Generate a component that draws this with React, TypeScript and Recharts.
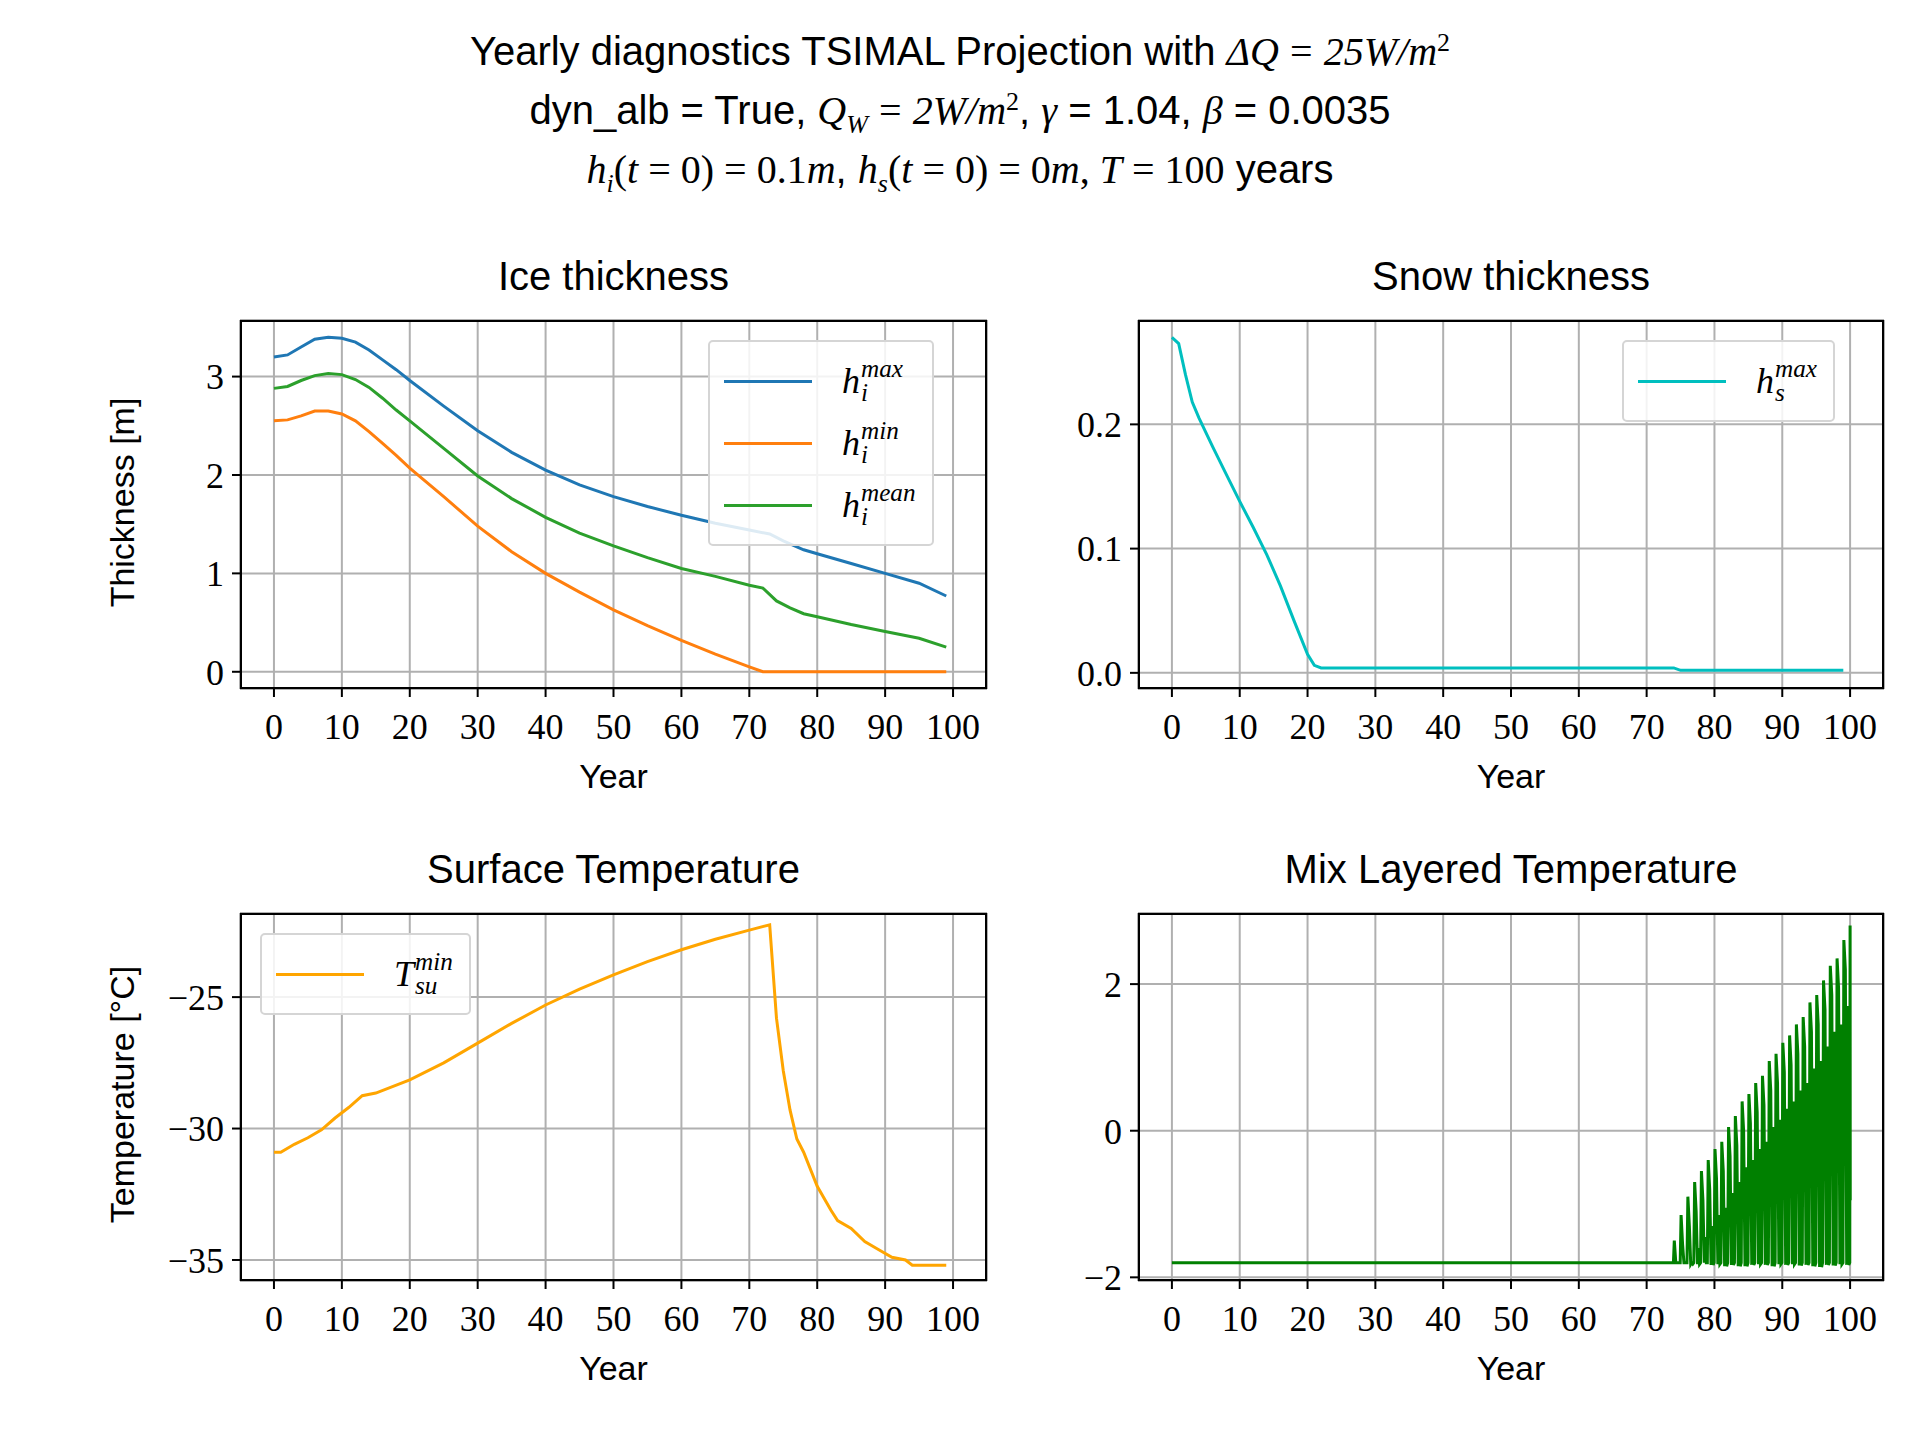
import React from "react";
import { LineChart, Line, XAxis, YAxis, CartesianGrid } from "recharts";

const yearTicks = [0, 10, 20, 30, 40, 50, 60, 70, 80, 90, 100];

const hMaxYears = [0, 2, 4, 6, 8, 10, 12, 14, 16, 18, 20, 25, 30, 35, 40, 45, 50, 55, 60, 65, 70, 73, 75, 78, 80, 85, 90, 95, 99];
const hMaxVals = [3.2, 3.22, 3.3, 3.38, 3.4, 3.39, 3.35, 3.27, 3.17, 3.07, 2.96, 2.7, 2.45, 2.23, 2.05, 1.9, 1.78, 1.68, 1.59, 1.51, 1.44, 1.4, 1.33, 1.24, 1.2, 1.1, 1.0, 0.9, 0.77];
const hMinYears = [0, 2, 4, 6, 8, 10, 12, 14, 16, 18, 20, 25, 30, 35, 40, 45, 50, 55, 60, 65, 70, 72, 99];
const hMinVals = [2.55, 2.56, 2.6, 2.65, 2.65, 2.62, 2.55, 2.44, 2.32, 2.2, 2.07, 1.78, 1.48, 1.22, 1.0, 0.81, 0.63, 0.47, 0.32, 0.18, 0.05, 0.0, 0.0];
const hMeanYears = [0, 2, 4, 6, 8, 10, 12, 14, 16, 18, 20, 25, 30, 35, 40, 45, 50, 55, 60, 65, 70, 72, 74, 76, 78, 80, 85, 90, 95, 99];
const hMeanVals = [2.88, 2.9, 2.96, 3.01, 3.03, 3.02, 2.97, 2.89, 2.78, 2.66, 2.55, 2.27, 1.99, 1.76, 1.57, 1.41, 1.28, 1.16, 1.05, 0.97, 0.88, 0.85, 0.72, 0.65, 0.59, 0.56, 0.48, 0.41, 0.34, 0.25];

const snowYears = [0, 1, 2, 3, 4, 6, 8, 10, 12, 14, 16, 18, 20, 21, 22, 74, 75, 99];
const snowVals = [0.27, 0.265, 0.24, 0.218, 0.205, 0.182, 0.16, 0.138, 0.117, 0.095, 0.07, 0.042, 0.015, 0.006, 0.004, 0.004, 0.002, 0.002];

const tsuYears = [0, 1, 3, 5, 7, 9, 11, 13, 15, 20, 25, 30, 35, 40, 45, 50, 55, 60, 65, 70, 73, 74, 75, 76, 77, 78, 80, 82, 83, 85, 87, 89, 91, 93, 94, 99];
const tsuVals = [-30.9, -30.9, -30.6, -30.35, -30.05, -29.6, -29.2, -28.75, -28.65, -28.15, -27.5, -26.75, -26.0, -25.3, -24.7, -24.15, -23.65, -23.2, -22.8, -22.45, -22.25, -25.8, -27.8, -29.3, -30.4, -30.9, -32.2, -33.1, -33.5, -33.8, -34.3, -34.6, -34.9, -35.0, -35.2, -35.2];

// mixed layer: flat until year 74, then one summer peak per year
const mixBase = -1.8;
const mixPeakYears = [74, 75, 76, 77, 78, 79, 80, 81, 82, 83, 84, 85, 86, 87, 88, 89, 90, 91, 92, 93, 94, 95, 96, 97, 98, 99];
const mixPeakVals = [-1.5, -1.15, -0.9, -0.7, -0.55, -0.4, -0.25, -0.15, 0.05, 0.2, 0.4, 0.5, 0.65, 0.75, 0.95, 1.05, 1.2, 1.3, 1.45, 1.55, 1.75, 1.85, 2.05, 2.25, 2.35, 2.6];
const mixTroughVals = [-1.8, -1.8, -1.82, -1.82, -1.8, -1.83, -1.82, -1.85, -1.83, -1.85, -1.85, -1.83, -1.82, -1.83, -1.85, -1.82, -1.83, -1.82, -1.84, -1.83, -1.85, -1.86, -1.83, -1.84, -1.82, -1.83];
const mixLastPeak = 2.8;
const mixLastVal = -0.95;

const zip = (xs: number[], ys: number[]) => xs.map((x, i) => ({ x, y: ys[i] }));

const mixData: { x: number; y: number }[] = [{ x: 0, y: mixBase }];
mixPeakYears.forEach((yr, i) => {
  const tr = mixTroughVals[i];
  mixData.push({ x: yr - 0.05, y: mixBase });
  mixData.push({ x: yr + 0.08, y: mixPeakVals[i] });
  mixData.push({ x: yr + 0.3, y: Math.max(mixPeakVals[i] - 0.4, tr) });
  mixData.push({ x: yr + 0.5, y: tr });
  mixData.push({ x: yr + 0.62, y: Math.max(mixPeakVals[i] - 0.9, tr) });
  mixData.push({ x: yr + 0.8, y: tr });
});
mixData.push({ x: 99.95, y: mixBase });
mixData.push({ x: 100, y: mixLastPeak });
mixData.push({ x: 100.02, y: mixLastVal });

const SANS = "'Liberation Sans', 'DejaVu Sans', sans-serif";
const SERIF = "'Liberation Serif', 'DejaVu Serif', serif";

const M = ({ children }: { children: React.ReactNode }) => (
  <span style={{ fontFamily: SERIF, fontStyle: "italic" }}>{children}</span>
);

const Sym = ({ base, sup, sub }: { base: string; sup: string; sub: string }) => (
  <span style={{ fontFamily: SERIF, fontStyle: "italic", display: "inline-flex", alignItems: "center" }}>
    <span>{base}</span>
    <span style={{ display: "inline-flex", flexDirection: "column", fontSize: "0.7em", lineHeight: 0.95, marginLeft: 1 }}>
      <span>{sup}</span>
      <span>{sub}</span>
    </span>
  </span>
);

type Series = { data: { x: number; y: number }[]; color: string; width?: number };

type PanelProps = {
  px: number; py: number; pw: number; ph: number;
  title: string; ylabel?: string;
  yDomain: [number, number]; yTicks: number[]; yFmt: (v: number) => string;
  series: Series[];
  legend?: React.ReactNode;
};

const ML = 170, MT = 10, MR = 10, XH = 120;

function Panel(p: PanelProps) {
  const W = p.pw + ML + MR;
  const H = p.ph + MT + XH;
  return (
    <>
      <div style={{ position: "absolute", left: p.px - ML, top: p.py - MT }}>
        <LineChart width={W} height={H} margin={{ top: MT, right: MR, left: 0, bottom: 0 }}>
          <CartesianGrid stroke="#b0b0b0" strokeWidth={2} />
          <XAxis type="number" dataKey="x" domain={[-5, 105]} ticks={yearTicks} height={XH}
            allowDataOverflow tick={{ fill: "#000", fontSize: 36, fontFamily: SERIF, dy: 14 }}
            tickSize={8} stroke="#000" axisLine={false} tickLine={{ stroke: "#000", strokeWidth: 2 }} />
          <YAxis type="number" dataKey="y" domain={p.yDomain} ticks={p.yTicks} width={ML}
            allowDataOverflow tickFormatter={p.yFmt} tick={{ fill: "#000", fontSize: 36, fontFamily: SERIF, dx: -6 }}
            tickSize={8} axisLine={false} tickLine={{ stroke: "#000", strokeWidth: 2 }} />
          {p.series.map((s, i) => (
            <Line key={i} data={s.data} dataKey="y" type="linear" stroke={s.color}
              strokeWidth={s.width ?? 3} dot={false} isAnimationActive={false} />
          ))}
        </LineChart>
      </div>
      <div style={{ position: "absolute", left: p.px, top: p.py, width: p.pw, height: p.ph,
        border: "2px solid #000", boxSizing: "border-box", pointerEvents: "none" }} />
      <div style={{ position: "absolute", left: p.px, top: p.py - 66, width: p.pw, textAlign: "center",
        fontFamily: SANS, fontSize: 40 }}>{p.title}</div>
      <div style={{ position: "absolute", left: p.px, top: p.py + p.ph + 68, width: p.pw, textAlign: "center",
        fontFamily: SANS, fontSize: 34 }}>Year</div>
      {p.ylabel && (
        <div style={{ position: "absolute", left: p.px - 118 - p.ph / 2, top: p.py + p.ph / 2 - 22, width: p.ph,
          textAlign: "center", fontFamily: SANS, fontSize: 34, transform: "rotate(-90deg)" }}>{p.ylabel}</div>
      )}
      {p.legend}
    </>
  );
}

const LegendBox = ({ left, top, items }: { left: number; top: number; items: { color: string; label: React.ReactNode }[] }) => (
  <div style={{ position: "absolute", left, top, background: "rgba(255,255,255,0.85)", border: "2px solid #d5d5d5",
    borderRadius: 5, padding: "8px 16px 8px 14px" }}>
    {items.map((it, i) => (
      <div key={i} style={{ display: "flex", alignItems: "center", height: 62, fontSize: 36 }}>
        <div style={{ width: 88, height: 3, background: it.color, marginRight: 30 }} />
        {it.label}
      </div>
    ))}
  </div>
);

export default function App() {
  const fmtInt = (v: number) => (v < 0 ? `\u2212${Math.abs(v)}` : `${v}`);
  const subSt = { fontFamily: SERIF, fontStyle: "italic" as const, fontSize: 26 };
  return (
    <div style={{ position: "absolute", left: 0, top: 0, width: 1920, height: 1440, background: "#fff", overflow: "hidden" }}>
      <div style={{ position: "absolute", left: 0, top: 22, width: 1920, textAlign: "center", fontFamily: SANS, fontSize: 40, lineHeight: "58px" }}>
        <div>Yearly diagnostics TSIMAL Projection with <M>ΔQ</M> <span style={{ fontFamily: SERIF }}>=</span> <M>25W/m</M><sup style={{ fontFamily: SERIF, fontSize: 26, lineHeight: 0 }}>2</sup></div>
        <div>dyn_alb = True, <M>Q</M><sub style={{ ...subSt, lineHeight: 0 }}>W</sub> <span style={{ fontFamily: SERIF }}>=</span> <M>2W/m</M><sup style={{ fontFamily: SERIF, fontSize: 26, lineHeight: 0 }}>2</sup>, <M>γ</M> = 1.04, <M>β</M> = 0.0035</div>
        <div><M>h</M><sub style={{ ...subSt, lineHeight: 0 }}>i</sub><span style={{ fontFamily: SERIF }}>(<i>t</i> = 0) = 0.1<i>m</i></span>, <M>h</M><sub style={{ ...subSt, lineHeight: 0 }}>s</sub><span style={{ fontFamily: SERIF }}>(<i>t</i> = 0) = 0<i>m</i>, <i>T</i> = 100</span> years</div>
      </div>

      <Panel px={240} py={320} pw={747} ph={369} title="Ice thickness" ylabel="Thickness [m]"
        yDomain={[-0.175, 3.575]} yTicks={[0, 1, 2, 3]} yFmt={fmtInt}
        series={[
          { data: zip(hMaxYears, hMaxVals), color: "#1f77b4" },
          { data: zip(hMinYears, hMinVals), color: "#ff7f0e" },
          { data: zip(hMeanYears, hMeanVals), color: "#2ca02c" },
        ]}
        legend={<LegendBox left={708} top={340} items={[
          { color: "#1f77b4", label: <Sym base="h" sup="max" sub="i" /> },
          { color: "#ff7f0e", label: <Sym base="h" sup="min" sub="i" /> },
          { color: "#2ca02c", label: <Sym base="h" sup="mean" sub="i" /> },
        ]} />} />

      <Panel px={1138} py={320} pw={746} ph={369} title="Snow thickness"
        yDomain={[-0.013, 0.284]} yTicks={[0, 0.1, 0.2]} yFmt={(v) => v.toFixed(1)}
        series={[{ data: zip(snowYears, snowVals), color: "#00bfbf" }]}
        legend={<LegendBox left={1622} top={340} items={[
          { color: "#00bfbf", label: <Sym base="h" sup="max" sub="s" /> },
        ]} />} />

      <Panel px={240} py={913} pw={747} ph={368} title="Surface Temperature" ylabel="Temperature [°C]"
        yDomain={[-35.8, -21.8]} yTicks={[-35, -30, -25]} yFmt={fmtInt}
        series={[{ data: zip(tsuYears, tsuVals), color: "#ffa500" }]}
        legend={<LegendBox left={260} top={933} items={[
          { color: "#ffa500", label: <Sym base="T" sup="min" sub="su" /> },
        ]} />} />

      <Panel px={1138} py={913} pw={746} ph={368} title="Mix Layered Temperature"
        yDomain={[-2.05, 2.97]} yTicks={[-2, 0, 2]} yFmt={fmtInt}
        series={[{ data: mixData, color: "#008000", width: 3 }]} />
    </div>
  );
}
